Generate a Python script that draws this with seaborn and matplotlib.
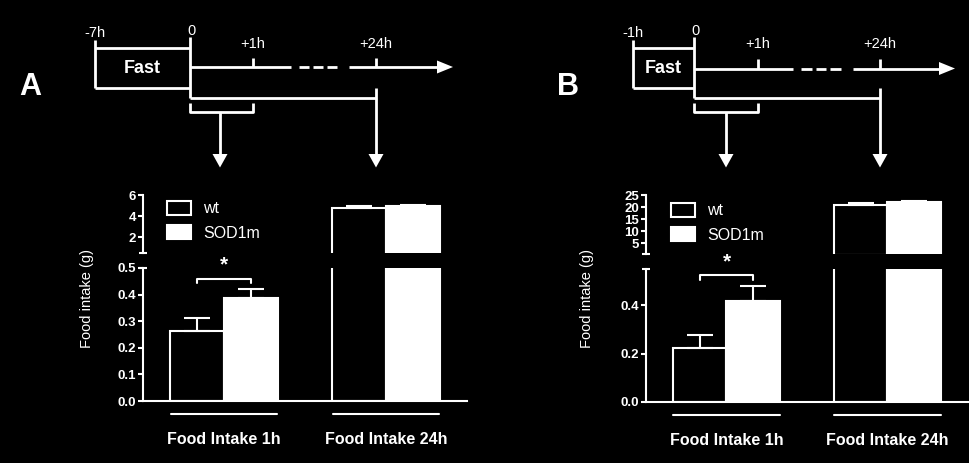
import numpy as np
import pandas as pd
import matplotlib
matplotlib.use('Agg')
import matplotlib.pyplot as plt
import matplotlib.transforms as mtransforms
from matplotlib.patches import Patch
import seaborn as sns

groups = ['Food Intake 1h', 'Food Intake 24h']
genotypes = ['wt', 'SOD1m']

# panel A (7h fast)
wt_mean_a = [0.264, 4.72]
wt_sem_a = [0.047, 0.22]
sod_mean_a = [0.387, 4.92]
sod_sem_a = [0.033, 0.13]

# panel B (1h fast)
wt_mean_b = [0.223, 20.9]
wt_sem_b = [0.056, 0.7]
sod_mean_b = [0.419, 22.0]
sod_sem_b = [0.062, 0.4]

# broken y axis: lower part ticks, upper part ticks, break value
lower_ticks_a = [0.0, 0.1, 0.2, 0.3, 0.4, 0.5]
upper_ticks_a = [2, 4, 6]
brk_a = 0.5
lower_ticks_b = [0.0, 0.2, 0.4]
upper_ticks_b = [5, 10, 15, 20, 25]
brk_b = 0.55

sns.set_theme(style='ticks')
plt.rcParams['font.family'] = ['Liberation Sans', 'DejaVu Sans']
plt.rcParams['axes.linewidth'] = 1.5

W, H = 970, 463
fig = plt.figure(figsize=(9.7, 4.63), dpi=100, facecolor='black')
pal = {'wt': 'black', 'SOD1m': 'white'}
LW = 1.5


def px_axes(x0, y0, x1, y1):
    # axes box from pixel corners (top-left origin)
    return fig.add_axes([x0 / W, 1 - y1 / H, (x1 - x0) / W, (y1 - y0) / H])


def cap(ax, y):
    tr = mtransforms.blended_transform_factory(ax.transAxes, ax.transData)
    ax.plot([-0.011, 0.011], [y, y], transform=tr, color='white', lw=LW,
            clip_on=False, solid_capstyle='butt')


def bar_panel(ax_lo, ax_hi, wt_mean, wt_sem, sod_mean, sod_sem,
              lo_ticks, hi_ticks, brk, lo_fmt, hi_size):
    df = pd.DataFrame({'group': groups * 2,
                       'genotype': ['wt'] * 2 + ['SOD1m'] * 2,
                       'intake': wt_mean + sod_mean,
                       'sem': wt_sem + sod_sem})
    lims = {ax_lo: (0, brk), ax_hi: (brk, hi_ticks[-1])}
    for ax in (ax_lo, ax_hi):
        sns.barplot(data=df, x='group', y='intake', hue='genotype',
                    hue_order=genotypes, palette=pal, edgecolor='white',
                    linewidth=LW, width=0.67, errorbar=None, legend=False, ax=ax)
        lo, hi = lims[ax]
        for cont, g in zip(ax.containers, genotypes):
            sub = df[df.genotype == g]
            for b, m, e in zip(cont, sub['intake'], sub['sem']):
                # bars that end below the break are not part of the upper axis
                if m < lo:
                    b.set_visible(False)
                    continue
                if m <= hi:
                    ax.errorbar(b.get_x() + b.get_width() / 2, m, yerr=[[0], [e]],
                                fmt='none', ecolor='white', elinewidth=LW,
                                capsize=9.5, capthick=LW)
        ax.set_xlim(-0.5, 1.5)
        ax.set_ylim(lo, hi)
        ax.set_facecolor('black')
        ax.set_xlabel('')
        ax.set_ylabel('')
        for s in ['top', 'right']:
            ax.spines[s].set_visible(False)
        ax.spines['left'].set_color('white')
        ax.spines['bottom'].set_color('white')
        ax.tick_params(axis='y', colors='white', width=LW, length=3.5, pad=1.5)

    # lower part
    ax_lo.set_yticks(lo_ticks, [lo_fmt % t for t in lo_ticks],
                     fontweight='bold', fontsize=9.5)
    cap(ax_lo, brk)
    ax_lo.set_xticks([0, 1], groups, fontweight='bold', fontsize=11.5, color='white')
    ax_lo.tick_params(axis='x', length=0, pad=22.5)
    tr = mtransforms.blended_transform_factory(ax_lo.transData, ax_lo.transAxes)
    for i in range(len(groups)):
        ax_lo.plot([i - 0.33, i + 0.33], [-0.098, -0.098], transform=tr,
                   color='white', lw=LW, clip_on=False)

    # significance bracket over 1h bars
    b_wt = ax_lo.containers[0][0]
    b_sod = ax_lo.containers[1][0]
    xa = b_wt.get_x() + b_wt.get_width() / 2
    xb = b_sod.get_x() + b_sod.get_width() / 2
    top = max(wt_mean[0] + wt_sem[0], sod_mean[0] + sod_sem[0]) + 0.08 * brk
    ax_lo.plot([xa, xa, xb, xb], [top - 0.035 * brk, top, top, top - 0.035 * brk],
               color='white', lw=LW, clip_on=False)
    ax_lo.text((xa + xb) / 2, top + 0.03 * brk, '*', color='white', fontsize=15,
               fontweight='bold', ha='center', va='bottom', clip_on=False)

    # upper part
    ax_hi.set_yticks(hi_ticks, [str(t) for t in hi_ticks],
                     fontweight='bold', fontsize=hi_size)
    ax_hi.spines['bottom'].set_visible(False)
    ax_hi.set_xticks([])
    cap(ax_hi, brk)

    handles = [Patch(facecolor='black', edgecolor='white', lw=LW, label='wt'),
               Patch(facecolor='white', edgecolor='white', lw=LW, label='SOD1m')]
    return handles


def timeline(ov, left, x0, x1, x24, y, gap, tip, arr1, lbl):
    kw = dict(color='white', lw=2.0, solid_capstyle='butt')
    ov.plot([left, left], [40, 87.5], **kw)
    ov.plot([left, x0], [48, 48], **kw)
    ov.plot([left, x0], [87.5, 87.5], **kw)
    ov.plot([x0, x0], [37, 97.5], **kw)
    ov.text(left, 33, lbl, color='white', fontsize=10.5, ha='center', va='center')
    ov.text(x0 + 2, 31, '0', color='white', fontsize=10.5, ha='center', va='center')
    ov.text((left + x0) / 2, 68.5, 'Fast', color='white', fontsize=13,
            fontweight='bold', ha='center', va='center')
    # time axis with broken part
    ov.plot([x0, gap[0]], [y, y], **kw)
    span = gap[1] - gap[0]
    d = (span - 16) / 3.0
    for k in range(3):
        a = gap[0] + 8 + k * d
        ov.plot([a, a + d - 4], [y, y], **kw)
    ov.plot([gap[1], tip - 14], [y, y], **kw)
    ov.fill([tip - 16, tip, tip - 16], [y - 6.5, y, y + 6.5], color='white', lw=0)
    for xt, t in [(x1, '+1h'), (x24, '+24h')]:
        ov.plot([xt, xt], [y - 9.5, y], **kw)
        ov.text(xt, 44.5, t, color='white', fontsize=10.5, ha='center', va='center')
    # brackets and arrows to the bar groups
    ov.plot([x0, x24], [97.5, 97.5], **kw)
    ov.plot([x24, x24], [88, 154], **kw)
    ov.fill([x24 - 7.5, x24, x24 + 7.5], [154, 167.5, 154], color='white', lw=0)
    ov.plot([x0, x0, x1, x1], [103, 112, 112, 103], **kw)
    ov.plot([arr1, arr1], [112, 154], **kw)
    ov.fill([arr1 - 7.5, arr1, arr1 + 7.5], [154, 167.5, 154], color='white', lw=0)


# panel A
lo_a = px_axes(143, 268, 467, 401)
hi_a = px_axes(143, 195, 467, 253)
h = bar_panel(lo_a, hi_a, wt_mean_a, wt_sem_a, sod_mean_a, sod_sem_a,
              lower_ticks_a, upper_ticks_a, brk_a, '%.1f', 9.5)
hi_a.legend(handles=h, loc='upper left', bbox_to_anchor=(167 / W, 1 - 201 / H),
            bbox_transform=fig.transFigure, frameon=False, fontsize=11.5,
            handlelength=1.5, handleheight=0.95, handletextpad=0.75,
            labelspacing=0.55, borderpad=0, borderaxespad=0, labelcolor='white')

# panel B
lo_b = px_axes(646, 269.3, 968, 401.7)
hi_b = px_axes(646, 195, 968, 254)
h = bar_panel(lo_b, hi_b, wt_mean_b, wt_sem_b, sod_mean_b, sod_sem_b,
              lower_ticks_b, upper_ticks_b, brk_b, '%.1f', 9.5)
hi_b.legend(handles=h, loc='upper left', bbox_to_anchor=(671 / W, 1 - 203 / H),
            bbox_transform=fig.transFigure, frameon=False, fontsize=11.5,
            handlelength=1.5, handleheight=0.95, handletextpad=0.75,
            labelspacing=0.55, borderpad=0, borderaxespad=0, labelcolor='white')

for xl in (87, 587):
    fig.text(xl / W, 1 - 298 / H, 'Food intake (g)', rotation=90, color='white',
             fontsize=10.5, ha='center', va='center')

# timeline schematics on top
ov = fig.add_axes([0, 0, 1, 1])
ov.set_xlim(0, W)
ov.set_ylim(H, 0)
ov.axis('off')
ov.patch.set_visible(False)
timeline(ov, 95, 190, 253, 376, 67, (291, 349), 453, 220, '-7h')
timeline(ov, 633, 694, 758, 880, 68.5, (793, 853), 955, 726, '-1h')
ov.text(30.5, 87, 'A', color='white', fontsize=22, fontweight='bold',
        ha='center', va='center')
ov.text(568, 87, 'B', color='white', fontsize=22, fontweight='bold',
        ha='center', va='center')

fig.savefig('out.png', dpi=100, facecolor='black')
